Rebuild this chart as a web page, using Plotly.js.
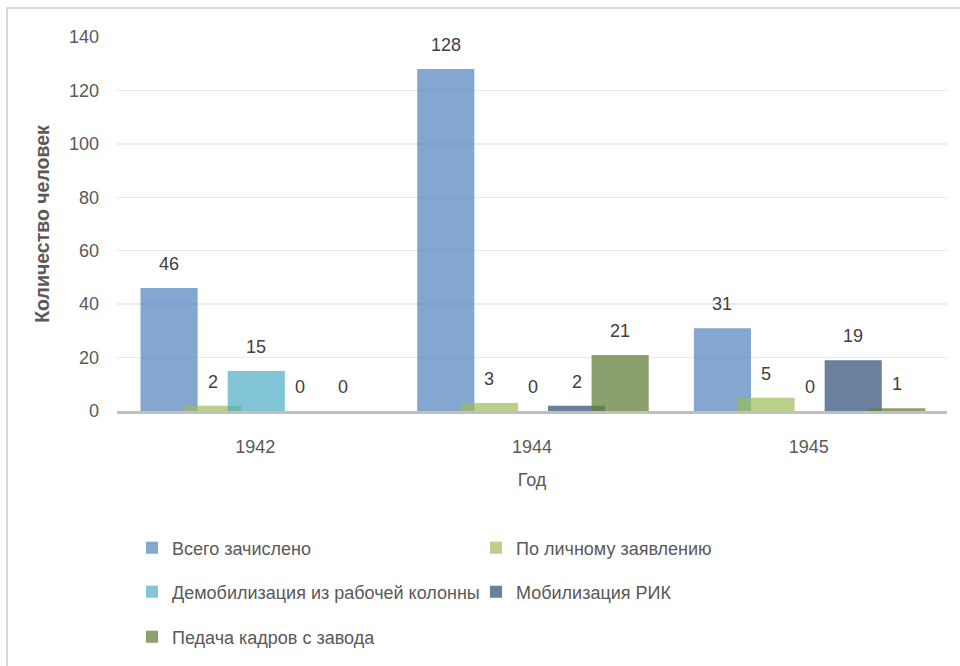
<!DOCTYPE html>
<html>
<head>
<meta charset="utf-8">
<script src="https://cdn.plot.ly/plotly-3.0.1.min.js"></script>
<style>
html,body{margin:0;padding:0;background:#fff;}
#wrap{position:relative;width:960px;height:666px;overflow:hidden;}
#chart{width:960px;height:666px;}
#frame{position:absolute;left:6px;top:7px;right:-10px;bottom:-10px;border-left:2px solid #d9d9d9;border-top:2px solid #d9d9d9;pointer-events:none;}
</style>
</head>
<body>
<div id="wrap"><div id="chart"></div><div id="frame"></div></div>
<script>
const years = ["1942", "1944", "1945"];
const seriesNames = ["Всего зачислено", "По личному заявлению", "Демобилизация из рабочей колонны", "Мобилизация РИК", "Педача кадров с завода"];
const vsego = [46, 128, 31];
const poLichnomu = [2, 3, 5];
const demobilizaciya = [15, 0, 0];
const mobilizaciya = [0, 2, 19];
const peredacha = [0, 21, 1];
const yTicks = [0, 20, 40, 60, 80, 100, 120, 140];

const seriesValues = [vsego, poLichnomu, demobilizaciya, mobilizaciya, peredacha];
const colors = ["rgba(79,129,189,0.70)", "rgba(155,187,89,0.70)", "rgba(75,172,198,0.70)", "rgba(31,62,110,0.66)", "rgba(100,128,60,0.75)"];

const barW = 0.2065;
const step = 0.1576;
const firstOffset = -0.415;

// plot area geometry (px) for legend placement
const L = 117, R = 13, T = 37, B = 254, W = 960, H = 666;
const pw = W - L - R, ph = H - T - B;
const px2x = p => (p - L) / pw;
const py2y = p => (H - B - p) / ph;

const legendPos = [
  [172, 548], [516, 548], [172, 592], [516, 592], [172, 637]
];
const legendKeys = ["legend", "legend2", "legend3", "legend4", "legend5"];

const traces = seriesValues.map((vals, i) => ({
  type: "bar",
  name: seriesNames[i],
  x: years,
  y: vals,
  offset: firstOffset + i * step,
  width: barW,
  marker: {color: colors[i], line: {width: 0}},
  legend: legendKeys[i],
  hoverinfo: "skip"
}));

const annotations = [];
seriesValues.forEach((vals, i) => {
  vals.forEach((v, j) => {
    annotations.push({
      x: j + firstOffset + i * step + barW / 2,
      y: v,
      xref: "x", yref: "y",
      text: String(v),
      showarrow: false,
      yanchor: "middle",
      yshift: 24,
      font: {family: "Liberation Sans, Arial, sans-serif", size: 18, color: "#404040"}
    });
  });
});

const layout = {
  width: W, height: H,
  margin: {l: L, r: R, t: T, b: B, pad: 0},
  paper_bgcolor: "#ffffff",
  plot_bgcolor: "#ffffff",
  barmode: "overlay",
  font: {family: "Liberation Sans, Arial, sans-serif", size: 18, color: "#595959"},
  xaxis: {
    type: "category",
    showline: true, linecolor: "#c0c0c0", linewidth: 2.5,
    showgrid: false, zeroline: false,
    ticks: "", ticklabelstandoff: 18,
    tickfont: {size: 18, color: "#595959"},
    title: {text: "Год", font: {size: 18, color: "#595959"}, standoff: 18},
    fixedrange: true
  },
  yaxis: {
    range: [0, 140],
    tickvals: yTicks,
    showgrid: true, gridcolor: "#ebebeb", gridwidth: 1.5,
    zeroline: false, showline: false,
    ticks: "", ticklabelstandoff: 17,
    tickfont: {size: 18, color: "#595959"},
    title: {text: "<b>Количество человек</b>", font: {size: 19.5, color: "#595959"}, standoff: 14},
    fixedrange: true
  },
  annotations: annotations,
  showlegend: true
};

legendKeys.forEach((k, i) => {
  layout[k] = {
    x: px2x(legendPos[i][0] - 40),
    y: py2y(legendPos[i][1]),
    xanchor: "left",
    yanchor: "middle",
    orientation: "h",
    bgcolor: "rgba(0,0,0,0)",
    borderwidth: 0,
    font: {family: "Liberation Sans, Arial, sans-serif", size: 18, color: "#595959"}
  };
});

Plotly.newPlot("chart", traces, layout, {displayModeBar: false, staticPlot: true});
</script>
</body>
</html>
